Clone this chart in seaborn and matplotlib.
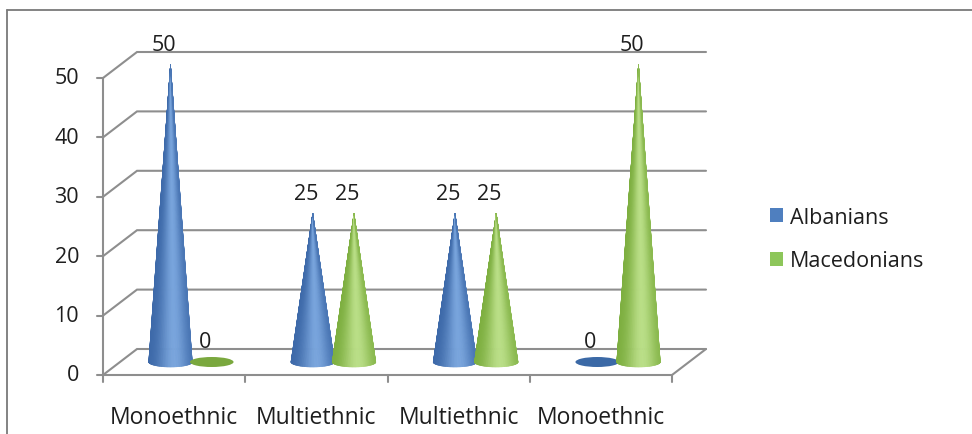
import numpy as np
import pandas as pd
import matplotlib
matplotlib.use("Agg")
import matplotlib.pyplot as plt
from matplotlib.collections import PolyCollection
from matplotlib.patches import Ellipse, Patch
from matplotlib.colors import to_rgb
import seaborn as sns

# ---- data ----
categories = ["Monoethnic", "Multiethnic", "Multiethnic", "Monoethnic"]
albanians = [50, 25, 25, 0]
macedonians = [0, 25, 25, 50]
series_names = ["Albanians", "Macedonians"]
y_ticks = [0, 10, 20, 30, 40, 50]

df = pd.DataFrame({
    "idx": list(range(len(categories))) * 2,
    "category": categories * 2,
    "series": [series_names[0]] * len(categories) + [series_names[1]] * len(categories),
    "value": albanians + macedonians,
})

sns.set_theme(style="white")
plt.rcParams["font.family"] = ["Open Sans", "DejaVu Sans"]
FS = 15.5
FS_CAT = 16.5
TXT_C = "#1e1e1e"

W, H, DPI = 972, 435, 100
fig = plt.figure(figsize=(W / DPI, H / DPI), dpi=DPI)
ax = fig.add_axes([0, 0, 1, 1])

# pixel scale of the plotting box
PX_CAT = 142.25          # pixels per category
PX_VAL = 5.94            # pixels per value unit
X0_PX, Y0_PX = 103, 376  # front-left-bottom corner
ax.set_xlim(-0.5 - X0_PX / PX_CAT, -0.5 + (W - X0_PX) / PX_CAT)
ax.set_ylim(-(H - Y0_PX) / PX_VAL, Y0_PX / PX_VAL)
ax.axis("off")

# 3D depth offset
DX = 34 / PX_CAT
DY = 26 / PX_VAL
n = len(categories)
xl, xr = -0.5, n - 0.5
grid_c = "#8e8e8e"
lw = 1.5

# walls and gridlines
ax.plot([xl, xl], [0, y_ticks[-1]], color=grid_c, lw=lw, solid_capstyle="butt")
for v in y_ticks:
    ax.plot([xl, xl + DX, xr + DX], [v, v + DY, v + DY], color=grid_c, lw=lw,
            solid_joinstyle="miter")
    ax.plot([xl - 6 / PX_CAT, xl], [v, v], color=grid_c, lw=lw)
    ax.text(xl - 24 / PX_CAT, v, str(v), ha="right", va="center",
            fontsize=FS, color=TXT_C)
# floor
ax.plot([xl, xr, xr + DX], [0, 0, DY], color=grid_c, lw=lw, solid_joinstyle="miter")
for k in range(n + 1):
    ax.plot([xl + k, xl + k], [0, -7 / PX_VAL], color=grid_c, lw=lw)
for i, c in enumerate(categories):
    ax.text(i, -42 / PX_VAL, c, ha="center", va="center", fontsize=FS_CAT, color=TXT_C)

# cones
R = 21.8 / PX_CAT
E = 5.0 / PX_VAL
OFF = 0.145
palettes = {
    "Albanians": ("#3a66a6", "#78a4dc", "#3b69a6"),
    "Macedonians": ("#7aac3c", "#b9de86", "#7aa83e"),
}


def draw_cone(cx, by, h, dark, light):
    th = np.linspace(np.pi, 2 * np.pi, 90)
    px = cx + R * np.cos(th)
    py = by + E * np.sin(th)
    u = np.cos(th)
    d, l = np.array(to_rgb(dark)), np.array(to_rgb(light))
    tris, cols = [], []
    for j in range(len(th) - 1):
        tris.append([(cx, by + h), (px[j], py[j]), (px[j + 1], py[j + 1])])
        um = 0.5 * (u[j] + u[j + 1])
        f = np.exp(-((um - 0.2) / 0.7) ** 2)
        cols.append(d + (l - d) * f)
    pc = PolyCollection(tris, facecolors=cols, edgecolors=cols, linewidths=0.4,
                        zorder=3)
    ax.add_collection(pc)


for s, sign in zip(series_names, (-1, 1)):
    sub = df[df["series"] == s]
    for _, row in sub.iterrows():
        cx = row["idx"] + DX / 2 + sign * OFF
        by = DY / 2
        dark, light, flat = palettes[s]
        if row["value"] > 0:
            draw_cone(cx, by, row["value"], dark, light)
        else:
            ax.add_patch(Ellipse((cx, by), 2 * R, 2 * E, facecolor=flat,
                                 edgecolor="none", zorder=3))
        ax.text(cx - 7 / PX_CAT, by + row["value"] + 3.45, f"{row['value']:g}",
                ha="center", va="center", fontsize=FS, color=TXT_C, zorder=4)

# legend
handles = [Patch(facecolor="#4f7fbf", edgecolor="none"),
           Patch(facecolor="#8dc65a", edgecolor="none")]
leg = fig.legend(handles, series_names, loc="center left",
                 bbox_to_anchor=(770 / W, 1 - 240 / H), frameon=False,
                 fontsize=FS, handlelength=0.62, handleheight=0.62,
                 handletextpad=0.3, labelspacing=1.05, borderpad=0,
                 borderaxespad=0)
for t in leg.get_texts():
    t.set_color(TXT_C)

# chart border (top and left)
border_c = "#7a7a7a"
fig.add_artist(plt.Line2D([6.5 / W, 1], [1 - 10.5 / H, 1 - 10.5 / H],
                          transform=fig.transFigure, color=border_c, lw=1.3))
fig.add_artist(plt.Line2D([6.5 / W, 6.5 / W], [0, 1 - 10.5 / H],
                          transform=fig.transFigure, color=border_c, lw=1.3))

fig.savefig("out.png", dpi=DPI, facecolor="white")
